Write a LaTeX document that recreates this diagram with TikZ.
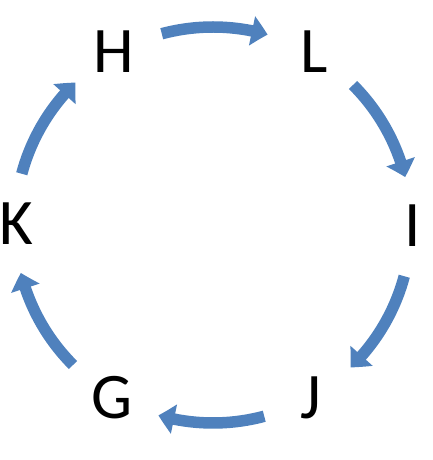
\documentclass[tikz,border=0pt]{standalone}
\usepackage{fontspec}
\setmainfont{Carlito}
\usetikzlibrary{arrows.meta,bending,calc}
\definecolor{arrblue}{HTML}{4F81BD}
\tikzset{
  letter/.style={inner sep=0pt, font=\fontsize{65}{78}\selectfont, text=black},
  cyclearrow/.style={draw=arrblue, line width=11.5pt, -{Triangle[width=29pt,length=16pt,bend]}, fill=none}
}
\begin{document}
\begin{tikzpicture}[x=1pt,y=1pt]
\useasboundingbox (0,0) rectangle (432,460);
\coordinate (c) at (213,235);
\node[letter] (H) at (113.5,408) {H};
\node[letter] (L) at (314,408) {L};
\node[letter] (I) at (413,234) {I};
\node[letter] (J) at (311,62) {J};
\node[letter] (G) at (112,62) {G};
\node[letter] (K) at (16.5,236) {K};
\foreach \t in {120,60,0,-60,-120,180}{
  \draw[cyclearrow] ($(c)+(\t-15:198)$) arc[start angle=\t-15, end angle=\t-46, radius=198];
}
\end{tikzpicture}
\end{document}
